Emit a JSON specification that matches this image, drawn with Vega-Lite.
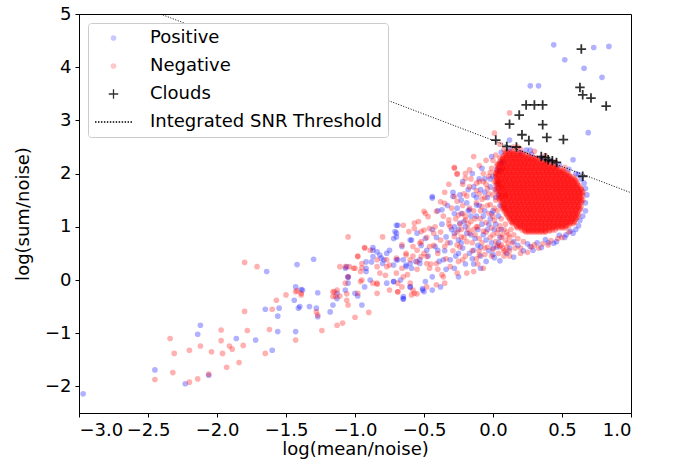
{
"$schema":"https://vega.github.io/schema/vega-lite/v6.json",
"width":552,"height":399,
"autosize":{"type":"none"},
"padding":{"left":79,"top":14,"right":45,"bottom":59},
"config":{
"font":"DejaVu Sans",
"view":{"stroke":"black","strokeWidth":1},
"axis":{"grid":false,"domainColor":"black","domainWidth":1,"tickColor":"black","tickSize":4,"tickWidth":1,"labelFontSize":18,"titleFontSize":18,"labelFont":"DejaVu Sans","titleFont":"DejaVu Sans","titleFontWeight":"normal","labelColor":"black","titleColor":"black","labelPadding":4},
"legend":{"orient":"top-left","offset":9,"padding":6,"fillColor":"white","strokeColor":"#cccccc","cornerRadius":3,"labelFontSize":18,"labelFont":"DejaVu Sans","labelColor":"black","labelOffset":17,"labelLimit":0,"clipHeight":18,"rowPadding":10,"symbolStrokeWidth":1.3}
},
"layer":[
{
"data":{"values":[
{"s":"P","x":-2.97,"y":-2.14},{"s":"P","x":-2.45,"y":-1.69},{"s":"P","x":-2.23,"y":-1.95},{"s":"P","x":-2.14,"y":-1.02},{"s":"P","x":-2.12,"y":-0.85},{"s":"P","x":-2.06,"y":-1.79},{"s":"P","x":-1.86,"y":-1.10},{"s":"P","x":-1.72,"y":-1.13},{"s":"P","x":-1.64,"y":0.16},{"s":"P","x":-1.65,"y":-0.55},{"s":"P","x":-1.60,"y":-1.32},{"s":"P","x":-1.56,"y":-0.68},{"s":"P","x":-1.55,"y":-0.53},{"s":"P","x":-1.56,"y":-0.97},{"s":"P","x":-1.44,"y":-0.38},{"s":"P","x":-1.43,"y":-0.97},{"s":"P","x":-1.42,"y":0.29},{"s":"P","x":-1.43,"y":-0.13},{"s":"P","x":-1.41,"y":-0.53},{"s":"P","x":-1.38,"y":-0.19},{"s":"P","x":-1.30,"y":0.39},{"s":"P","x":-1.33,"y":-0.50},{"s":"P","x":-1.27,"y":-0.24},{"s":"P","x":-1.28,"y":-0.53},{"s":"P","x":-1.18,"y":-0.60},{"s":"P","x":-1.16,"y":-0.47},{"s":"P","x":-1.27,"y":-0.69},{"s":"P","x":-1.40,"y":-0.50},
{"s":"P","x":-0.87,"y":0.61},{"s":"P","x":-0.84,"y":0.53},{"s":"P","x":-0.92,"y":0.34},{"s":"P","x":-0.81,"y":0.41},{"s":"P","x":-0.77,"y":0.50},{"s":"P","x":-1.07,"y":0.22},{"s":"P","x":-0.92,"y":0.22},{"s":"P","x":-0.72,"y":0.28},{"s":"P","x":-0.69,"y":0.38},{"s":"P","x":-0.70,"y":0.88},{"s":"P","x":-0.72,"y":0.78},{"s":"P","x":-0.70,"y":1.03},{"s":"P","x":-0.65,"y":0.38},{"s":"P","x":-0.60,"y":0.31},{"s":"P","x":-0.59,"y":0.75},{"s":"P","x":-0.55,"y":0.88},{"s":"P","x":-0.49,"y":0.78},{"s":"P","x":-1.05,"y":0.05},{"s":"P","x":-0.89,"y":0.00},{"s":"P","x":-0.77,"y":-0.06},{"s":"P","x":-0.72,"y":-0.03},{"s":"P","x":-0.67,"y":0.00},{"s":"P","x":-0.60,"y":-0.13},{"s":"P","x":-0.49,"y":-0.03},{"s":"P","x":-0.65,"y":-0.35},{"s":"P","x":-0.50,"y":-0.22},{"s":"P","x":-1.39,"y":-0.18},{"s":"P","x":-1.13,"y":-0.35},{"s":"P","x":-1.07,"y":-0.19},{"s":"P","x":-0.98,"y":-0.30},
{"s":"P","x":-0.22,"y":1.85},{"s":"P","x":-0.14,"y":1.75},{"s":"P","x":-0.44,"y":1.54},{"s":"P","x":-0.37,"y":1.32},{"s":"P","x":-0.29,"y":1.57},{"s":"P","x":-0.23,"y":1.50},{"s":"P","x":-0.26,"y":1.35},{"s":"P","x":-0.69,"y":1.03},{"s":"P","x":-0.71,"y":0.91},{"s":"P","x":-0.70,"y":0.81},{"s":"P","x":-0.60,"y":0.75},{"s":"P","x":-0.66,"y":0.63},{"s":"P","x":-0.75,"y":0.56},{"s":"P","x":-0.82,"y":0.47},{"s":"P","x":-0.87,"y":0.56},{"s":"P","x":-0.88,"y":0.34},{"s":"P","x":-0.80,"y":0.31},{"s":"P","x":-0.70,"y":0.38},{"s":"P","x":-0.63,"y":0.28},{"s":"P","x":-0.59,"y":0.22},{"s":"P","x":-0.53,"y":0.38},{"s":"P","x":-0.48,"y":0.56},{"s":"P","x":-0.42,"y":0.63},{"s":"P","x":-0.40,"y":0.56},{"s":"P","x":-0.34,"y":0.81},{"s":"P","x":-0.28,"y":0.88},{"s":"P","x":-0.24,"y":1.07},{"s":"P","x":-0.17,"y":1.32},{"s":"P","x":-0.12,"y":1.41},{"s":"P","x":-0.31,"y":0.38},{"s":"P","x":-0.28,"y":0.22},{"s":"P","x":-0.25,"y":0.06},{"s":"P","x":-1.06,"y":0.25},{"s":"P","x":-1.05,"y":0.06},{"s":"P","x":-1.13,"y":-0.25},{"s":"P","x":-1.00,"y":-0.25},{"s":"P","x":-0.93,"y":-0.13},{"s":"P","x":-0.72,"y":-0.03},{"s":"P","x":-0.60,"y":-0.13},{"s":"P","x":-0.51,"y":-0.19},{"s":"P","x":-0.44,"y":0.06},{"s":"P","x":-0.65,"y":-0.31},{"s":"P","x":-0.38,"y":-0.13},{"s":"P","x":-0.92,"y":0.16},
{"s":"P","x":-0.95,"y":-0.47},{"s":"P","x":-0.65,"y":-0.36},{"s":"P","x":-0.51,"y":-0.16},{"s":"P","x":-0.44,"y":-0.19},{"s":"P","x":-0.09,"y":0.22},{"s":"P","x":0.05,"y":0.36},{"s":"P","x":0.29,"y":0.56},{"s":"P","x":0.44,"y":0.69},{"s":"P","x":-0.87,"y":0.44},{"s":"P","x":-0.79,"y":0.38},{"s":"P","x":-0.63,"y":0.25},{"s":"P","x":-0.53,"y":0.31},{"s":"P","x":-0.36,"y":0.38},{"s":"P","x":-0.25,"y":0.50},{"s":"P","x":-0.14,"y":0.56},{"s":"P","x":0.00,"y":0.60},{"s":"P","x":0.12,"y":0.60},{"s":"P","x":-1.05,"y":-0.06},
{"s":"P","x":-0.14,"y":0.30},{"s":"P","x":-0.11,"y":0.65},{"s":"P","x":-0.09,"y":0.45},{"s":"P","x":-0.07,"y":0.85},{"s":"P","x":-0.05,"y":0.35},{"s":"P","x":-0.03,"y":0.55},{"s":"P","x":-0.01,"y":0.70},{"s":"P","x":0.01,"y":0.42},{"s":"P","x":0.03,"y":0.62},{"s":"P","x":0.05,"y":0.80},{"s":"P","x":-0.12,"y":1.20},{"s":"P","x":-0.10,"y":1.40},{"s":"P","x":-0.08,"y":1.05},{"s":"P","x":-0.06,"y":1.30},{"s":"P","x":-0.04,"y":0.95},{"s":"P","x":-0.02,"y":1.15},{"s":"P","x":0.00,"y":1.30},{"s":"P","x":0.02,"y":1.05},{"s":"P","x":0.04,"y":1.20},{"s":"P","x":0.05,"y":1.40},{"s":"P","x":-0.09,"y":1.70},{"s":"P","x":-0.06,"y":1.90},{"s":"P","x":-0.04,"y":1.55},{"s":"P","x":-0.02,"y":1.75},{"s":"P","x":0.00,"y":1.95},{"s":"P","x":0.02,"y":1.70},{"s":"P","x":0.03,"y":2.08},{"s":"P","x":0.04,"y":1.60},{"s":"P","x":-0.08,"y":2.10},{"s":"P","x":0.06,"y":2.20},{"s":"P","x":-0.18,"y":1.30},{"s":"P","x":-0.20,"y":1.00},{"s":"P","x":-0.16,"y":0.85},{"s":"P","x":-0.23,"y":1.25},{"s":"P","x":-0.19,"y":1.45},{"s":"P","x":-0.14,"y":1.60},{"s":"P","x":-0.25,"y":0.75},{"s":"P","x":-0.22,"y":0.60},{"s":"P","x":-0.17,"y":0.50},{"s":"P","x":-0.28,"y":1.00},
{"s":"P","x":-0.41,"y":0.80},{"s":"P","x":-0.39,"y":0.35},{"s":"P","x":-0.37,"y":1.05},{"s":"P","x":-0.35,"y":0.55},{"s":"P","x":-0.33,"y":1.40},{"s":"P","x":-0.31,"y":0.70},{"s":"P","x":-0.30,"y":0.95},{"s":"P","x":-0.28,"y":1.25},{"s":"P","x":-0.27,"y":0.45},{"s":"P","x":-0.25,"y":0.95},{"s":"P","x":-0.24,"y":1.60},{"s":"P","x":-0.23,"y":0.70},{"s":"P","x":-0.21,"y":1.10},{"s":"P","x":-0.20,"y":0.30},{"s":"P","x":-0.19,"y":0.88},{"s":"P","x":-0.18,"y":1.70},{"s":"P","x":-0.16,"y":1.20},{"s":"P","x":-0.15,"y":0.40},{"s":"P","x":-0.13,"y":0.78},{"s":"P","x":-0.12,"y":1.55},{"s":"P","x":-0.11,"y":0.95},{"s":"P","x":-0.10,"y":1.90},{"s":"P","x":-0.09,"y":0.62},{"s":"P","x":-0.07,"y":1.20},{"s":"P","x":-0.06,"y":1.65},{"s":"P","x":-0.05,"y":0.75},{"s":"P","x":-0.03,"y":1.05},{"s":"P","x":-0.02,"y":1.90},{"s":"P","x":-0.01,"y":1.25},{"s":"P","x":0.00,"y":0.48},{"s":"P","x":0.01,"y":0.95},{"s":"P","x":0.02,"y":1.55},{"s":"P","x":0.03,"y":1.80},{"s":"P","x":0.04,"y":0.70},{"s":"P","x":0.05,"y":2.05},{"s":"P","x":0.06,"y":0.95},{"s":"P","x":-0.47,"y":0.45},{"s":"P","x":-0.44,"y":0.95},{"s":"P","x":-0.52,"y":0.65},{"s":"P","x":-0.56,"y":0.35},{"s":"P","x":-0.40,"y":1.30},{"s":"P","x":-0.34,"y":0.20},{"s":"P","x":-0.29,"y":1.65},{"s":"P","x":-0.15,"y":2.00},
{"s":"P","x":0.15,"y":0.43},{"s":"P","x":0.35,"y":0.61},{"s":"P","x":0.52,"y":0.80},{"s":"P","x":0.32,"y":0.70},{"s":"P","x":0.46,"y":0.72},{"s":"P","x":0.53,"y":0.85},{"s":"P","x":0.15,"y":0.72},{"s":"P","x":0.27,"y":0.63},{"s":"P","x":0.22,"y":0.55},{"s":"P","x":0.40,"y":0.70},{"s":"P","x":0.58,"y":0.88},{"s":"P","x":0.10,"y":0.50},{"s":"P","x":0.18,"y":0.65},{"s":"P","x":0.38,"y":0.76},{"s":"P","x":0.48,"y":0.84},{"s":"P","x":0.25,"y":0.68},{"s":"P","x":0.60,"y":0.95},{"s":"P","x":0.62,"y":1.02},{"s":"P","x":0.56,"y":0.92},
{"s":"P","x":0.67,"y":1.30},{"s":"P","x":0.67,"y":1.45},{"s":"P","x":0.68,"y":1.60},{"s":"P","x":0.67,"y":1.72},{"s":"P","x":0.66,"y":1.82},{"s":"P","x":0.65,"y":1.20},{"s":"P","x":0.63,"y":1.12},{"s":"P","x":0.64,"y":1.90},{"s":"P","x":0.62,"y":1.98},{"s":"P","x":0.12,"y":2.46},{"s":"P","x":0.20,"y":2.40},{"s":"P","x":0.28,"y":2.36},{"s":"P","x":0.35,"y":2.30},{"s":"P","x":0.42,"y":2.24},{"s":"P","x":0.48,"y":2.16},{"s":"P","x":0.55,"y":2.08},{"s":"P","x":0.60,"y":2.00},{"s":"P","x":0.06,"y":2.40},{"s":"P","x":0.24,"y":2.44},
{"s":"P","x":0.44,"y":4.42},{"s":"P","x":0.73,"y":4.37},{"s":"P","x":0.84,"y":4.39},{"s":"P","x":0.52,"y":4.14},{"s":"P","x":0.66,"y":3.98},{"s":"P","x":0.79,"y":3.81},{"s":"P","x":0.27,"y":3.65},{"s":"P","x":0.33,"y":3.65},{"s":"P","x":0.69,"y":2.77},{"s":"P","x":0.58,"y":2.26},{"s":"P","x":0.12,"y":2.63},{"s":"P","x":0.27,"y":2.44},{"s":"P","x":-0.01,"y":2.32},{"s":"P","x":0.07,"y":2.22},{"s":"P","x":-0.44,"y":1.57},
{"s":"N","x":-2.45,"y":-1.87},{"s":"N","x":-2.34,"y":-1.10},{"s":"N","x":-2.32,"y":-1.74},{"s":"N","x":-2.31,"y":-1.38},{"s":"N","x":-2.20,"y":-1.32},{"s":"N","x":-2.20,"y":-1.92},{"s":"N","x":-2.14,"y":-1.86},{"s":"N","x":-2.12,"y":-1.24},{"s":"N","x":-2.06,"y":-1.77},{"s":"N","x":-2.04,"y":-1.35},{"s":"N","x":-1.97,"y":-0.94},{"s":"N","x":-1.97,"y":-1.14},{"s":"N","x":-1.96,"y":-1.38},{"s":"N","x":-1.93,"y":-1.64},{"s":"N","x":-1.91,"y":-1.24},{"s":"N","x":-1.89,"y":-1.30},{"s":"N","x":-1.84,"y":-1.55},{"s":"N","x":-1.81,"y":-1.23},{"s":"N","x":-1.80,"y":-0.59},{"s":"N","x":-1.80,"y":0.33},{"s":"N","x":-1.78,"y":-0.95},{"s":"N","x":-1.71,"y":0.25},{"s":"N","x":-1.65,"y":-1.38},{"s":"N","x":-1.62,"y":-0.93},{"s":"N","x":-1.60,"y":-0.55},{"s":"N","x":-1.57,"y":-0.38},{"s":"N","x":-1.50,"y":-0.28},{"s":"N","x":-1.43,"y":-1.13},{"s":"N","x":-1.43,"y":-0.22},{"s":"N","x":-1.39,"y":-0.25},{"s":"N","x":-1.28,"y":-0.60},{"s":"N","x":-1.27,"y":-0.66},{"s":"N","x":-1.24,"y":-0.95},{"s":"N","x":-1.16,"y":-0.22},{"s":"N","x":-1.14,"y":-0.31},{"s":"N","x":-1.13,"y":-0.85},{"s":"N","x":-1.42,"y":-0.20},
{"s":"N","x":-1.05,"y":0.81},{"s":"N","x":-0.93,"y":0.61},{"s":"N","x":-0.98,"y":0.45},{"s":"N","x":-0.84,"y":0.38},{"s":"N","x":-1.07,"y":0.25},{"s":"N","x":-1.01,"y":0.22},{"s":"N","x":-0.95,"y":0.23},{"s":"N","x":-0.84,"y":0.25},{"s":"N","x":-0.77,"y":0.25},{"s":"N","x":-0.66,"y":0.66},{"s":"N","x":-0.63,"y":0.47},{"s":"N","x":-0.55,"y":0.56},{"s":"N","x":-0.52,"y":0.72},{"s":"N","x":-0.50,"y":0.94},{"s":"N","x":-0.49,"y":1.25},{"s":"N","x":-0.57,"y":1.07},{"s":"N","x":-0.52,"y":0.44},{"s":"N","x":-1.05,"y":0.06},{"s":"N","x":-0.95,"y":0.00},{"s":"N","x":-0.84,"y":-0.08},{"s":"N","x":-0.69,"y":-0.06},{"s":"N","x":-0.65,"y":0.06},{"s":"N","x":-0.60,"y":-0.06},{"s":"N","x":-0.59,"y":-0.28},{"s":"N","x":-0.55,"y":-0.26},{"s":"N","x":-0.69,"y":-0.22},{"s":"N","x":-1.39,"y":-0.28},{"s":"N","x":-1.15,"y":-0.22},{"s":"N","x":-1.11,"y":-0.30},{"s":"N","x":-1.06,"y":-0.26},{"s":"N","x":-1.05,"y":-0.47},
{"s":"N","x":-0.14,"y":2.32},{"s":"N","x":-0.28,"y":2.10},{"s":"N","x":-0.26,"y":2.00},{"s":"N","x":-0.17,"y":2.07},{"s":"N","x":-0.20,"y":1.91},{"s":"N","x":-0.12,"y":1.82},{"s":"N","x":-0.28,"y":1.57},{"s":"N","x":-0.35,"y":1.44},{"s":"N","x":-0.38,"y":1.47},{"s":"N","x":-0.41,"y":1.29},{"s":"N","x":-0.50,"y":1.29},{"s":"N","x":-0.47,"y":1.19},{"s":"N","x":-0.54,"y":1.10},{"s":"N","x":-0.57,"y":0.97},{"s":"N","x":-0.65,"y":1.03},{"s":"N","x":-0.61,"y":0.91},{"s":"N","x":-0.52,"y":0.91},{"s":"N","x":-0.46,"y":0.97},{"s":"N","x":-0.43,"y":0.88},{"s":"N","x":-0.32,"y":1.13},{"s":"N","x":-0.31,"y":1.00},{"s":"N","x":-0.25,"y":1.22},{"s":"N","x":-0.20,"y":1.13},{"s":"N","x":-0.38,"y":0.75},{"s":"N","x":-0.35,"y":0.63},{"s":"N","x":-0.26,"y":0.66},{"s":"N","x":-0.23,"y":0.81},{"s":"N","x":-0.17,"y":0.88},{"s":"N","x":-0.12,"y":1.00},{"s":"N","x":-0.80,"y":0.81},{"s":"N","x":-0.89,"y":0.56},{"s":"N","x":-0.93,"y":0.60},{"s":"N","x":-0.98,"y":0.44},{"s":"N","x":-0.95,"y":0.31},{"s":"N","x":-1.00,"y":0.22},{"s":"N","x":-1.04,"y":0.25},{"s":"N","x":-1.11,"y":0.25},{"s":"N","x":-1.07,"y":-0.06},{"s":"N","x":-1.13,"y":-0.19},{"s":"N","x":-1.16,"y":-0.31},{"s":"N","x":-0.96,"y":-0.03},{"s":"N","x":-0.87,"y":-0.06},{"s":"N","x":-0.78,"y":0.09},{"s":"N","x":-0.70,"y":0.13},{"s":"N","x":-0.66,"y":0.22},{"s":"N","x":-0.55,"y":0.34},{"s":"N","x":-0.48,"y":0.44},{"s":"N","x":-0.46,"y":0.22},{"s":"N","x":-0.41,"y":0.31},{"s":"N","x":-0.35,"y":-0.06},{"s":"N","x":-0.26,"y":0.13},{"s":"N","x":-0.77,"y":0.38},{"s":"N","x":-0.70,"y":0.41},{"s":"N","x":-0.63,"y":0.50},{"s":"N","x":-0.58,"y":0.63},{"s":"N","x":-0.53,"y":0.69},{"s":"N","x":-0.46,"y":0.63},{"s":"N","x":-0.84,"y":-0.25},{"s":"N","x":-0.75,"y":-0.19},{"s":"N","x":-0.66,"y":-0.13},{"s":"N","x":-0.58,"y":-0.19},{"s":"N","x":-0.48,"y":-0.13},{"s":"N","x":-0.36,"y":0.06},
{"s":"N","x":-1.09,"y":-0.81},{"s":"N","x":-1.00,"y":-0.70},{"s":"N","x":-0.90,"y":-0.61},{"s":"N","x":-1.06,"y":-0.38},{"s":"N","x":-0.98,"y":-0.25},{"s":"N","x":-0.84,"y":-0.06},{"s":"N","x":-0.69,"y":-0.22},{"s":"N","x":-0.57,"y":-0.25},{"s":"N","x":-0.41,"y":-0.09},{"s":"N","x":-0.19,"y":0.13},{"s":"N","x":-0.14,"y":0.16},{"s":"N","x":-0.07,"y":0.22},{"s":"N","x":0.09,"y":0.53},{"s":"N","x":0.20,"y":0.50},{"s":"N","x":-0.96,"y":0.16},{"s":"N","x":-0.82,"y":0.13},{"s":"N","x":-0.75,"y":0.28},{"s":"N","x":-0.60,"y":0.38},{"s":"N","x":-0.48,"y":0.31},{"s":"N","x":-0.31,"y":0.25},{"s":"N","x":-0.22,"y":0.38},{"s":"N","x":-0.10,"y":0.47},{"s":"N","x":0.05,"y":0.63},
{"s":"N","x":0.12,"y":3.14},{"s":"N","x":0.01,"y":2.76},{"s":"N","x":-0.28,"y":2.12},{"s":"N","x":-0.26,"y":1.99},{"s":"N","x":0.05,"y":2.55},{"s":"N","x":0.15,"y":2.50},{"s":"N","x":0.20,"y":2.45},{"s":"N","x":0.08,"y":2.45},
{"s":"N","x":-0.40,"y":0.50},{"s":"N","x":-0.38,"y":0.90},{"s":"N","x":-0.36,"y":1.20},{"s":"N","x":-0.34,"y":0.40},{"s":"N","x":-0.33,"y":0.70},{"s":"N","x":-0.32,"y":1.05},{"s":"N","x":-0.30,"y":1.35},{"s":"N","x":-0.29,"y":0.55},{"s":"N","x":-0.28,"y":0.82},{"s":"N","x":-0.27,"y":1.15},{"s":"N","x":-0.26,"y":1.48},{"s":"N","x":-0.25,"y":0.35},{"s":"N","x":-0.24,"y":0.62},{"s":"N","x":-0.23,"y":0.95},{"s":"N","x":-0.22,"y":1.25},{"s":"N","x":-0.21,"y":1.62},{"s":"N","x":-0.20,"y":0.45},{"s":"N","x":-0.19,"y":0.72},{"s":"N","x":-0.18,"y":1.05},{"s":"N","x":-0.17,"y":1.35},{"s":"N","x":-0.16,"y":1.90},{"s":"N","x":-0.15,"y":0.55},{"s":"N","x":-0.14,"y":0.95},{"s":"N","x":-0.13,"y":1.15},{"s":"N","x":-0.12,"y":1.68},{"s":"N","x":-0.11,"y":0.30},{"s":"N","x":-0.10,"y":0.78},{"s":"N","x":-0.09,"y":1.30},{"s":"N","x":-0.08,"y":1.52},{"s":"N","x":-0.07,"y":1.85},{"s":"N","x":-0.06,"y":0.60},{"s":"N","x":-0.05,"y":0.90},{"s":"N","x":-0.04,"y":1.40},{"s":"N","x":-0.03,"y":1.62},{"s":"N","x":-0.02,"y":2.02},{"s":"N","x":-0.01,"y":0.45},{"s":"N","x":0.00,"y":0.85},{"s":"N","x":0.00,"y":1.20},{"s":"N","x":0.01,"y":1.70},{"s":"N","x":0.02,"y":1.95},{"s":"N","x":0.03,"y":0.65},{"s":"N","x":0.03,"y":1.30},{"s":"N","x":0.04,"y":1.85},{"s":"N","x":0.04,"y":0.95},{"s":"N","x":0.05,"y":1.55},{"s":"N","x":0.06,"y":1.15},{"s":"N","x":0.06,"y":1.75},{"s":"N","x":0.07,"y":2.10},{"s":"N","x":0.07,"y":0.85},{"s":"N","x":0.08,"y":1.35},{"s":"N","x":0.09,"y":1.05},{"s":"N","x":0.09,"y":1.60},{"s":"N","x":0.10,"y":0.90},{"s":"N","x":0.11,"y":0.70},{"s":"N","x":0.12,"y":0.80},{"s":"N","x":0.13,"y":0.95},{"s":"N","x":0.15,"y":0.85},{"s":"N","x":-0.45,"y":0.30},{"s":"N","x":-0.43,"y":0.65},{"s":"N","x":-0.42,"y":1.00},{"s":"N","x":-0.40,"y":0.20},{"s":"N","x":-0.37,"y":0.10},{"s":"N","x":-0.50,"y":0.50},{"s":"N","x":-0.48,"y":0.80},{"s":"N","x":-0.55,"y":0.20},{"s":"N","x":-0.58,"y":0.45},{"s":"N","x":-0.62,"y":0.10},{"s":"N","x":-0.35,"y":1.65},{"s":"N","x":-0.32,"y":1.80},{"s":"N","x":-0.22,"y":1.80},{"s":"N","x":-0.20,"y":2.00},{"s":"N","x":-0.10,"y":2.15},{"s":"N","x":-0.05,"y":2.25},{"s":"N","x":0.02,"y":2.35},
{"s":"N","x":-0.12,"y":0.40},{"s":"N","x":-0.10,"y":0.55},{"s":"N","x":-0.08,"y":0.70},{"s":"N","x":-0.06,"y":0.48},{"s":"N","x":-0.04,"y":0.62},{"s":"N","x":-0.02,"y":0.80},{"s":"N","x":0.00,"y":0.58},{"s":"N","x":0.02,"y":0.72},{"s":"N","x":0.04,"y":0.50},{"s":"N","x":0.06,"y":0.66},{"s":"N","x":-0.13,"y":0.85},{"s":"N","x":-0.11,"y":1.00},{"s":"N","x":-0.09,"y":1.15},{"s":"N","x":-0.07,"y":0.92},{"s":"N","x":-0.05,"y":1.08},{"s":"N","x":-0.03,"y":1.25},{"s":"N","x":-0.01,"y":0.98},{"s":"N","x":0.01,"y":1.12},{"s":"N","x":0.03,"y":0.88},{"s":"N","x":0.05,"y":1.02},{"s":"N","x":-0.14,"y":1.30},{"s":"N","x":-0.12,"y":1.45},{"s":"N","x":-0.10,"y":1.62},{"s":"N","x":-0.08,"y":1.38},{"s":"N","x":-0.06,"y":1.55},{"s":"N","x":-0.04,"y":1.72},{"s":"N","x":-0.02,"y":1.42},{"s":"N","x":0.00,"y":1.60},{"s":"N","x":0.01,"y":1.35},{"s":"N","x":0.02,"y":1.50},{"s":"N","x":-0.10,"y":1.85},{"s":"N","x":-0.07,"y":2.00},{"s":"N","x":-0.05,"y":1.80},{"s":"N","x":-0.03,"y":1.95},{"s":"N","x":-0.01,"y":2.10},{"s":"N","x":0.01,"y":1.85},{"s":"N","x":0.02,"y":2.00},{"s":"N","x":0.03,"y":2.18},{"s":"N","x":0.05,"y":2.30},{"s":"N","x":0.00,"y":2.25},{"s":"N","x":-0.16,"y":1.10},{"s":"N","x":-0.18,"y":0.95},{"s":"N","x":-0.15,"y":0.70},{"s":"N","x":-0.20,"y":1.20},{"s":"N","x":-0.22,"y":1.40},{"s":"N","x":-0.19,"y":1.58},{"s":"N","x":-0.17,"y":1.75},{"s":"N","x":-0.24,"y":1.05},{"s":"N","x":-0.21,"y":0.80},{"s":"N","x":-0.26,"y":0.90},{"s":"N","x":0.06,"y":0.80},{"s":"N","x":0.08,"y":0.95},{"s":"N","x":0.07,"y":0.60},{"s":"N","x":0.09,"y":0.75},{"s":"N","x":0.08,"y":0.45},{"s":"N","x":0.10,"y":0.62},{"s":"N","x":0.12,"y":0.55},{"s":"N","x":0.11,"y":0.85},{"s":"N","x":0.14,"y":0.70},{"s":"N","x":0.16,"y":0.60},
{"s":"N","x":0.20,"y":0.60},{"s":"N","x":0.12,"y":0.45},{"s":"N","x":0.30,"y":0.66},{"s":"N","x":0.42,"y":0.74},{"s":"N","x":0.25,"y":0.52},{"s":"N","x":0.36,"y":0.68},{"s":"N","x":0.50,"y":0.80},{"s":"N","x":0.18,"y":0.78},{"s":"N","x":0.08,"y":0.55},{"s":"N","x":0.33,"y":0.60},{"s":"N","x":0.47,"y":0.78},{"s":"N","x":0.55,"y":0.90},{"s":"N","x":0.22,"y":0.72},{"s":"N","x":0.28,"y":0.62},{"s":"N","x":0.40,"y":0.66},
{"s":"N","x":0.30,"y":2.42},{"s":"N","x":0.38,"y":2.34},{"s":"N","x":0.18,"y":2.50},{"s":"N","x":0.45,"y":2.22},{"s":"N","x":0.52,"y":2.12},
{"s":"N","x":0.10,"y":2.42},{"s":"N","x":0.12,"y":2.42},{"s":"N","x":0.14,"y":2.42},{"s":"N","x":0.16,"y":2.42},
{"s":"N","x":0.09,"y":2.38},{"s":"N","x":0.11,"y":2.38},{"s":"N","x":0.13,"y":2.38},{"s":"N","x":0.15,"y":2.38},{"s":"N","x":0.17,"y":2.38},{"s":"N","x":0.19,"y":2.38},{"s":"N","x":0.21,"y":2.38},
{"s":"N","x":0.08,"y":2.34},{"s":"N","x":0.10,"y":2.34},{"s":"N","x":0.12,"y":2.34},{"s":"N","x":0.14,"y":2.34},{"s":"N","x":0.16,"y":2.34},{"s":"N","x":0.18,"y":2.34},{"s":"N","x":0.20,"y":2.34},{"s":"N","x":0.22,"y":2.34},{"s":"N","x":0.24,"y":2.34},{"s":"N","x":0.26,"y":2.34},
{"s":"N","x":0.07,"y":2.30},{"s":"N","x":0.09,"y":2.30},{"s":"N","x":0.11,"y":2.30},{"s":"N","x":0.13,"y":2.30},{"s":"N","x":0.15,"y":2.30},{"s":"N","x":0.17,"y":2.30},{"s":"N","x":0.19,"y":2.30},{"s":"N","x":0.21,"y":2.30},{"s":"N","x":0.23,"y":2.30},{"s":"N","x":0.25,"y":2.30},{"s":"N","x":0.27,"y":2.30},{"s":"N","x":0.29,"y":2.30},{"s":"N","x":0.31,"y":2.30},
{"s":"N","x":0.06,"y":2.26},{"s":"N","x":0.08,"y":2.26},{"s":"N","x":0.10,"y":2.26},{"s":"N","x":0.12,"y":2.26},{"s":"N","x":0.14,"y":2.26},{"s":"N","x":0.16,"y":2.26},{"s":"N","x":0.18,"y":2.26},{"s":"N","x":0.20,"y":2.26},{"s":"N","x":0.22,"y":2.26},{"s":"N","x":0.24,"y":2.26},{"s":"N","x":0.26,"y":2.26},{"s":"N","x":0.28,"y":2.26},{"s":"N","x":0.30,"y":2.26},{"s":"N","x":0.32,"y":2.26},{"s":"N","x":0.34,"y":2.26},
{"s":"N","x":0.05,"y":2.22},{"s":"N","x":0.07,"y":2.22},{"s":"N","x":0.09,"y":2.22},{"s":"N","x":0.11,"y":2.22},{"s":"N","x":0.13,"y":2.22},{"s":"N","x":0.15,"y":2.22},{"s":"N","x":0.17,"y":2.22},{"s":"N","x":0.19,"y":2.22},{"s":"N","x":0.21,"y":2.22},{"s":"N","x":0.23,"y":2.22},{"s":"N","x":0.25,"y":2.22},{"s":"N","x":0.27,"y":2.22},{"s":"N","x":0.29,"y":2.22},{"s":"N","x":0.31,"y":2.22},{"s":"N","x":0.33,"y":2.22},{"s":"N","x":0.35,"y":2.22},{"s":"N","x":0.37,"y":2.22},{"s":"N","x":0.39,"y":2.22},
{"s":"N","x":0.04,"y":2.18},{"s":"N","x":0.06,"y":2.18},{"s":"N","x":0.08,"y":2.18},{"s":"N","x":0.10,"y":2.18},{"s":"N","x":0.12,"y":2.18},{"s":"N","x":0.14,"y":2.18},{"s":"N","x":0.16,"y":2.18},{"s":"N","x":0.18,"y":2.18},{"s":"N","x":0.20,"y":2.18},{"s":"N","x":0.22,"y":2.18},{"s":"N","x":0.24,"y":2.18},{"s":"N","x":0.26,"y":2.18},{"s":"N","x":0.28,"y":2.18},{"s":"N","x":0.30,"y":2.18},{"s":"N","x":0.32,"y":2.18},{"s":"N","x":0.34,"y":2.18},{"s":"N","x":0.36,"y":2.18},{"s":"N","x":0.38,"y":2.18},{"s":"N","x":0.40,"y":2.18},{"s":"N","x":0.42,"y":2.18},
{"s":"N","x":0.03,"y":2.14},{"s":"N","x":0.05,"y":2.14},{"s":"N","x":0.07,"y":2.14},{"s":"N","x":0.09,"y":2.14},{"s":"N","x":0.11,"y":2.14},{"s":"N","x":0.13,"y":2.14},{"s":"N","x":0.15,"y":2.14},{"s":"N","x":0.17,"y":2.14},{"s":"N","x":0.19,"y":2.14},{"s":"N","x":0.21,"y":2.14},{"s":"N","x":0.23,"y":2.14},{"s":"N","x":0.25,"y":2.14},{"s":"N","x":0.27,"y":2.14},{"s":"N","x":0.29,"y":2.14},{"s":"N","x":0.31,"y":2.14},{"s":"N","x":0.33,"y":2.14},{"s":"N","x":0.35,"y":2.14},{"s":"N","x":0.37,"y":2.14},{"s":"N","x":0.39,"y":2.14},{"s":"N","x":0.41,"y":2.14},{"s":"N","x":0.43,"y":2.14},{"s":"N","x":0.45,"y":2.14},
{"s":"N","x":0.04,"y":2.10},{"s":"N","x":0.06,"y":2.10},{"s":"N","x":0.08,"y":2.10},{"s":"N","x":0.10,"y":2.10},{"s":"N","x":0.12,"y":2.10},{"s":"N","x":0.14,"y":2.10},{"s":"N","x":0.16,"y":2.10},{"s":"N","x":0.18,"y":2.10},{"s":"N","x":0.20,"y":2.10},{"s":"N","x":0.22,"y":2.10},{"s":"N","x":0.24,"y":2.10},{"s":"N","x":0.26,"y":2.10},{"s":"N","x":0.28,"y":2.10},{"s":"N","x":0.30,"y":2.10},{"s":"N","x":0.32,"y":2.10},{"s":"N","x":0.34,"y":2.10},{"s":"N","x":0.36,"y":2.10},{"s":"N","x":0.38,"y":2.10},{"s":"N","x":0.40,"y":2.10},{"s":"N","x":0.42,"y":2.10},{"s":"N","x":0.44,"y":2.10},{"s":"N","x":0.46,"y":2.10},{"s":"N","x":0.48,"y":2.10},
{"s":"N","x":0.03,"y":2.06},{"s":"N","x":0.05,"y":2.06},{"s":"N","x":0.07,"y":2.06},{"s":"N","x":0.09,"y":2.06},{"s":"N","x":0.11,"y":2.06},{"s":"N","x":0.13,"y":2.06},{"s":"N","x":0.15,"y":2.06},{"s":"N","x":0.17,"y":2.06},{"s":"N","x":0.19,"y":2.06},{"s":"N","x":0.21,"y":2.06},{"s":"N","x":0.23,"y":2.06},{"s":"N","x":0.25,"y":2.06},{"s":"N","x":0.27,"y":2.06},{"s":"N","x":0.29,"y":2.06},{"s":"N","x":0.31,"y":2.06},{"s":"N","x":0.33,"y":2.06},{"s":"N","x":0.35,"y":2.06},{"s":"N","x":0.37,"y":2.06},{"s":"N","x":0.39,"y":2.06},{"s":"N","x":0.41,"y":2.06},{"s":"N","x":0.43,"y":2.06},{"s":"N","x":0.45,"y":2.06},{"s":"N","x":0.47,"y":2.06},{"s":"N","x":0.49,"y":2.06},{"s":"N","x":0.51,"y":2.06},
{"s":"N","x":0.02,"y":2.02},{"s":"N","x":0.04,"y":2.02},{"s":"N","x":0.06,"y":2.02},{"s":"N","x":0.08,"y":2.02},{"s":"N","x":0.10,"y":2.02},{"s":"N","x":0.12,"y":2.02},{"s":"N","x":0.14,"y":2.02},{"s":"N","x":0.16,"y":2.02},{"s":"N","x":0.18,"y":2.02},{"s":"N","x":0.20,"y":2.02},{"s":"N","x":0.22,"y":2.02},{"s":"N","x":0.24,"y":2.02},{"s":"N","x":0.26,"y":2.02},{"s":"N","x":0.28,"y":2.02},{"s":"N","x":0.30,"y":2.02},{"s":"N","x":0.32,"y":2.02},{"s":"N","x":0.34,"y":2.02},{"s":"N","x":0.36,"y":2.02},{"s":"N","x":0.38,"y":2.02},{"s":"N","x":0.40,"y":2.02},{"s":"N","x":0.42,"y":2.02},{"s":"N","x":0.44,"y":2.02},{"s":"N","x":0.46,"y":2.02},{"s":"N","x":0.48,"y":2.02},{"s":"N","x":0.50,"y":2.02},{"s":"N","x":0.52,"y":2.02},{"s":"N","x":0.54,"y":2.02},
{"s":"N","x":0.03,"y":1.98},{"s":"N","x":0.05,"y":1.98},{"s":"N","x":0.07,"y":1.98},{"s":"N","x":0.09,"y":1.98},{"s":"N","x":0.11,"y":1.98},{"s":"N","x":0.13,"y":1.98},{"s":"N","x":0.15,"y":1.98},{"s":"N","x":0.17,"y":1.98},{"s":"N","x":0.19,"y":1.98},{"s":"N","x":0.21,"y":1.98},{"s":"N","x":0.23,"y":1.98},{"s":"N","x":0.25,"y":1.98},{"s":"N","x":0.27,"y":1.98},{"s":"N","x":0.29,"y":1.98},{"s":"N","x":0.31,"y":1.98},{"s":"N","x":0.33,"y":1.98},{"s":"N","x":0.35,"y":1.98},{"s":"N","x":0.37,"y":1.98},{"s":"N","x":0.39,"y":1.98},{"s":"N","x":0.41,"y":1.98},{"s":"N","x":0.43,"y":1.98},{"s":"N","x":0.45,"y":1.98},{"s":"N","x":0.47,"y":1.98},{"s":"N","x":0.49,"y":1.98},{"s":"N","x":0.51,"y":1.98},{"s":"N","x":0.53,"y":1.98},{"s":"N","x":0.55,"y":1.98},
{"s":"N","x":0.02,"y":1.94},{"s":"N","x":0.04,"y":1.94},{"s":"N","x":0.06,"y":1.94},{"s":"N","x":0.08,"y":1.94},{"s":"N","x":0.10,"y":1.94},{"s":"N","x":0.12,"y":1.94},{"s":"N","x":0.14,"y":1.94},{"s":"N","x":0.16,"y":1.94},{"s":"N","x":0.18,"y":1.94},{"s":"N","x":0.20,"y":1.94},{"s":"N","x":0.22,"y":1.94},{"s":"N","x":0.24,"y":1.94},{"s":"N","x":0.26,"y":1.94},{"s":"N","x":0.28,"y":1.94},{"s":"N","x":0.30,"y":1.94},{"s":"N","x":0.32,"y":1.94},{"s":"N","x":0.34,"y":1.94},{"s":"N","x":0.36,"y":1.94},{"s":"N","x":0.38,"y":1.94},{"s":"N","x":0.40,"y":1.94},{"s":"N","x":0.42,"y":1.94},{"s":"N","x":0.44,"y":1.94},{"s":"N","x":0.46,"y":1.94},{"s":"N","x":0.48,"y":1.94},{"s":"N","x":0.50,"y":1.94},{"s":"N","x":0.52,"y":1.94},{"s":"N","x":0.54,"y":1.94},{"s":"N","x":0.56,"y":1.94},{"s":"N","x":0.58,"y":1.94},
{"s":"N","x":0.03,"y":1.90},{"s":"N","x":0.05,"y":1.90},{"s":"N","x":0.07,"y":1.90},{"s":"N","x":0.09,"y":1.90},{"s":"N","x":0.11,"y":1.90},{"s":"N","x":0.13,"y":1.90},{"s":"N","x":0.15,"y":1.90},{"s":"N","x":0.17,"y":1.90},{"s":"N","x":0.19,"y":1.90},{"s":"N","x":0.21,"y":1.90},{"s":"N","x":0.23,"y":1.90},{"s":"N","x":0.25,"y":1.90},{"s":"N","x":0.27,"y":1.90},{"s":"N","x":0.29,"y":1.90},{"s":"N","x":0.31,"y":1.90},{"s":"N","x":0.33,"y":1.90},{"s":"N","x":0.35,"y":1.90},{"s":"N","x":0.37,"y":1.90},{"s":"N","x":0.39,"y":1.90},{"s":"N","x":0.41,"y":1.90},{"s":"N","x":0.43,"y":1.90},{"s":"N","x":0.45,"y":1.90},{"s":"N","x":0.47,"y":1.90},{"s":"N","x":0.49,"y":1.90},{"s":"N","x":0.51,"y":1.90},{"s":"N","x":0.53,"y":1.90},{"s":"N","x":0.55,"y":1.90},{"s":"N","x":0.57,"y":1.90},{"s":"N","x":0.59,"y":1.90},
{"s":"N","x":0.02,"y":1.86},{"s":"N","x":0.04,"y":1.86},{"s":"N","x":0.06,"y":1.86},{"s":"N","x":0.08,"y":1.86},{"s":"N","x":0.10,"y":1.86},{"s":"N","x":0.12,"y":1.86},{"s":"N","x":0.14,"y":1.86},{"s":"N","x":0.16,"y":1.86},{"s":"N","x":0.18,"y":1.86},{"s":"N","x":0.20,"y":1.86},{"s":"N","x":0.22,"y":1.86},{"s":"N","x":0.24,"y":1.86},{"s":"N","x":0.26,"y":1.86},{"s":"N","x":0.28,"y":1.86},{"s":"N","x":0.30,"y":1.86},{"s":"N","x":0.32,"y":1.86},{"s":"N","x":0.34,"y":1.86},{"s":"N","x":0.36,"y":1.86},{"s":"N","x":0.38,"y":1.86},{"s":"N","x":0.40,"y":1.86},{"s":"N","x":0.42,"y":1.86},{"s":"N","x":0.44,"y":1.86},{"s":"N","x":0.46,"y":1.86},{"s":"N","x":0.48,"y":1.86},{"s":"N","x":0.50,"y":1.86},{"s":"N","x":0.52,"y":1.86},{"s":"N","x":0.54,"y":1.86},{"s":"N","x":0.56,"y":1.86},{"s":"N","x":0.58,"y":1.86},{"s":"N","x":0.60,"y":1.86},
{"s":"N","x":0.03,"y":1.82},{"s":"N","x":0.05,"y":1.82},{"s":"N","x":0.07,"y":1.82},{"s":"N","x":0.09,"y":1.82},{"s":"N","x":0.11,"y":1.82},{"s":"N","x":0.13,"y":1.82},{"s":"N","x":0.15,"y":1.82},{"s":"N","x":0.17,"y":1.82},{"s":"N","x":0.19,"y":1.82},{"s":"N","x":0.21,"y":1.82},{"s":"N","x":0.23,"y":1.82},{"s":"N","x":0.25,"y":1.82},{"s":"N","x":0.27,"y":1.82},{"s":"N","x":0.29,"y":1.82},{"s":"N","x":0.31,"y":1.82},{"s":"N","x":0.33,"y":1.82},{"s":"N","x":0.35,"y":1.82},{"s":"N","x":0.37,"y":1.82},{"s":"N","x":0.39,"y":1.82},{"s":"N","x":0.41,"y":1.82},{"s":"N","x":0.43,"y":1.82},{"s":"N","x":0.45,"y":1.82},{"s":"N","x":0.47,"y":1.82},{"s":"N","x":0.49,"y":1.82},{"s":"N","x":0.51,"y":1.82},{"s":"N","x":0.53,"y":1.82},{"s":"N","x":0.55,"y":1.82},{"s":"N","x":0.57,"y":1.82},{"s":"N","x":0.59,"y":1.82},{"s":"N","x":0.61,"y":1.82},
{"s":"N","x":0.02,"y":1.78},{"s":"N","x":0.04,"y":1.78},{"s":"N","x":0.06,"y":1.78},{"s":"N","x":0.08,"y":1.78},{"s":"N","x":0.10,"y":1.78},{"s":"N","x":0.12,"y":1.78},{"s":"N","x":0.14,"y":1.78},{"s":"N","x":0.16,"y":1.78},{"s":"N","x":0.18,"y":1.78},{"s":"N","x":0.20,"y":1.78},{"s":"N","x":0.22,"y":1.78},{"s":"N","x":0.24,"y":1.78},{"s":"N","x":0.26,"y":1.78},{"s":"N","x":0.28,"y":1.78},{"s":"N","x":0.30,"y":1.78},{"s":"N","x":0.32,"y":1.78},{"s":"N","x":0.34,"y":1.78},{"s":"N","x":0.36,"y":1.78},{"s":"N","x":0.38,"y":1.78},{"s":"N","x":0.40,"y":1.78},{"s":"N","x":0.42,"y":1.78},{"s":"N","x":0.44,"y":1.78},{"s":"N","x":0.46,"y":1.78},{"s":"N","x":0.48,"y":1.78},{"s":"N","x":0.50,"y":1.78},{"s":"N","x":0.52,"y":1.78},{"s":"N","x":0.54,"y":1.78},{"s":"N","x":0.56,"y":1.78},{"s":"N","x":0.58,"y":1.78},{"s":"N","x":0.60,"y":1.78},{"s":"N","x":0.62,"y":1.78},
{"s":"N","x":0.03,"y":1.74},{"s":"N","x":0.05,"y":1.74},{"s":"N","x":0.07,"y":1.74},{"s":"N","x":0.09,"y":1.74},{"s":"N","x":0.11,"y":1.74},{"s":"N","x":0.13,"y":1.74},{"s":"N","x":0.15,"y":1.74},{"s":"N","x":0.17,"y":1.74},{"s":"N","x":0.19,"y":1.74},{"s":"N","x":0.21,"y":1.74},{"s":"N","x":0.23,"y":1.74},{"s":"N","x":0.25,"y":1.74},{"s":"N","x":0.27,"y":1.74},{"s":"N","x":0.29,"y":1.74},{"s":"N","x":0.31,"y":1.74},{"s":"N","x":0.33,"y":1.74},{"s":"N","x":0.35,"y":1.74},{"s":"N","x":0.37,"y":1.74},{"s":"N","x":0.39,"y":1.74},{"s":"N","x":0.41,"y":1.74},{"s":"N","x":0.43,"y":1.74},{"s":"N","x":0.45,"y":1.74},{"s":"N","x":0.47,"y":1.74},{"s":"N","x":0.49,"y":1.74},{"s":"N","x":0.51,"y":1.74},{"s":"N","x":0.53,"y":1.74},{"s":"N","x":0.55,"y":1.74},{"s":"N","x":0.57,"y":1.74},{"s":"N","x":0.59,"y":1.74},{"s":"N","x":0.61,"y":1.74},{"s":"N","x":0.63,"y":1.74},
{"s":"N","x":0.04,"y":1.70},{"s":"N","x":0.06,"y":1.70},{"s":"N","x":0.08,"y":1.70},{"s":"N","x":0.10,"y":1.70},{"s":"N","x":0.12,"y":1.70},{"s":"N","x":0.14,"y":1.70},{"s":"N","x":0.16,"y":1.70},{"s":"N","x":0.18,"y":1.70},{"s":"N","x":0.20,"y":1.70},{"s":"N","x":0.22,"y":1.70},{"s":"N","x":0.24,"y":1.70},{"s":"N","x":0.26,"y":1.70},{"s":"N","x":0.28,"y":1.70},{"s":"N","x":0.30,"y":1.70},{"s":"N","x":0.32,"y":1.70},{"s":"N","x":0.34,"y":1.70},{"s":"N","x":0.36,"y":1.70},{"s":"N","x":0.38,"y":1.70},{"s":"N","x":0.40,"y":1.70},{"s":"N","x":0.42,"y":1.70},{"s":"N","x":0.44,"y":1.70},{"s":"N","x":0.46,"y":1.70},{"s":"N","x":0.48,"y":1.70},{"s":"N","x":0.50,"y":1.70},{"s":"N","x":0.52,"y":1.70},{"s":"N","x":0.54,"y":1.70},{"s":"N","x":0.56,"y":1.70},{"s":"N","x":0.58,"y":1.70},{"s":"N","x":0.60,"y":1.70},{"s":"N","x":0.62,"y":1.70},{"s":"N","x":0.64,"y":1.70},
{"s":"N","x":0.03,"y":1.66},{"s":"N","x":0.05,"y":1.66},{"s":"N","x":0.07,"y":1.66},{"s":"N","x":0.09,"y":1.66},{"s":"N","x":0.11,"y":1.66},{"s":"N","x":0.13,"y":1.66},{"s":"N","x":0.15,"y":1.66},{"s":"N","x":0.17,"y":1.66},{"s":"N","x":0.19,"y":1.66},{"s":"N","x":0.21,"y":1.66},{"s":"N","x":0.23,"y":1.66},{"s":"N","x":0.25,"y":1.66},{"s":"N","x":0.27,"y":1.66},{"s":"N","x":0.29,"y":1.66},{"s":"N","x":0.31,"y":1.66},{"s":"N","x":0.33,"y":1.66},{"s":"N","x":0.35,"y":1.66},{"s":"N","x":0.37,"y":1.66},{"s":"N","x":0.39,"y":1.66},{"s":"N","x":0.41,"y":1.66},{"s":"N","x":0.43,"y":1.66},{"s":"N","x":0.45,"y":1.66},{"s":"N","x":0.47,"y":1.66},{"s":"N","x":0.49,"y":1.66},{"s":"N","x":0.51,"y":1.66},{"s":"N","x":0.53,"y":1.66},{"s":"N","x":0.55,"y":1.66},{"s":"N","x":0.57,"y":1.66},{"s":"N","x":0.59,"y":1.66},{"s":"N","x":0.61,"y":1.66},{"s":"N","x":0.63,"y":1.66},{"s":"N","x":0.65,"y":1.66},
{"s":"N","x":0.04,"y":1.62},{"s":"N","x":0.06,"y":1.62},{"s":"N","x":0.08,"y":1.62},{"s":"N","x":0.10,"y":1.62},{"s":"N","x":0.12,"y":1.62},{"s":"N","x":0.14,"y":1.62},{"s":"N","x":0.16,"y":1.62},{"s":"N","x":0.18,"y":1.62},{"s":"N","x":0.20,"y":1.62},{"s":"N","x":0.22,"y":1.62},{"s":"N","x":0.24,"y":1.62},{"s":"N","x":0.26,"y":1.62},{"s":"N","x":0.28,"y":1.62},{"s":"N","x":0.30,"y":1.62},{"s":"N","x":0.32,"y":1.62},{"s":"N","x":0.34,"y":1.62},{"s":"N","x":0.36,"y":1.62},{"s":"N","x":0.38,"y":1.62},{"s":"N","x":0.40,"y":1.62},{"s":"N","x":0.42,"y":1.62},{"s":"N","x":0.44,"y":1.62},{"s":"N","x":0.46,"y":1.62},{"s":"N","x":0.48,"y":1.62},{"s":"N","x":0.50,"y":1.62},{"s":"N","x":0.52,"y":1.62},{"s":"N","x":0.54,"y":1.62},{"s":"N","x":0.56,"y":1.62},{"s":"N","x":0.58,"y":1.62},{"s":"N","x":0.60,"y":1.62},{"s":"N","x":0.62,"y":1.62},{"s":"N","x":0.64,"y":1.62},
{"s":"N","x":0.05,"y":1.58},{"s":"N","x":0.07,"y":1.58},{"s":"N","x":0.09,"y":1.58},{"s":"N","x":0.11,"y":1.58},{"s":"N","x":0.13,"y":1.58},{"s":"N","x":0.15,"y":1.58},{"s":"N","x":0.17,"y":1.58},{"s":"N","x":0.19,"y":1.58},{"s":"N","x":0.21,"y":1.58},{"s":"N","x":0.23,"y":1.58},{"s":"N","x":0.25,"y":1.58},{"s":"N","x":0.27,"y":1.58},{"s":"N","x":0.29,"y":1.58},{"s":"N","x":0.31,"y":1.58},{"s":"N","x":0.33,"y":1.58},{"s":"N","x":0.35,"y":1.58},{"s":"N","x":0.37,"y":1.58},{"s":"N","x":0.39,"y":1.58},{"s":"N","x":0.41,"y":1.58},{"s":"N","x":0.43,"y":1.58},{"s":"N","x":0.45,"y":1.58},{"s":"N","x":0.47,"y":1.58},{"s":"N","x":0.49,"y":1.58},{"s":"N","x":0.51,"y":1.58},{"s":"N","x":0.53,"y":1.58},{"s":"N","x":0.55,"y":1.58},{"s":"N","x":0.57,"y":1.58},{"s":"N","x":0.59,"y":1.58},{"s":"N","x":0.61,"y":1.58},{"s":"N","x":0.63,"y":1.58},{"s":"N","x":0.65,"y":1.58},
{"s":"N","x":0.04,"y":1.54},{"s":"N","x":0.06,"y":1.54},{"s":"N","x":0.08,"y":1.54},{"s":"N","x":0.10,"y":1.54},{"s":"N","x":0.12,"y":1.54},{"s":"N","x":0.14,"y":1.54},{"s":"N","x":0.16,"y":1.54},{"s":"N","x":0.18,"y":1.54},{"s":"N","x":0.20,"y":1.54},{"s":"N","x":0.22,"y":1.54},{"s":"N","x":0.24,"y":1.54},{"s":"N","x":0.26,"y":1.54},{"s":"N","x":0.28,"y":1.54},{"s":"N","x":0.30,"y":1.54},{"s":"N","x":0.32,"y":1.54},{"s":"N","x":0.34,"y":1.54},{"s":"N","x":0.36,"y":1.54},{"s":"N","x":0.38,"y":1.54},{"s":"N","x":0.40,"y":1.54},{"s":"N","x":0.42,"y":1.54},{"s":"N","x":0.44,"y":1.54},{"s":"N","x":0.46,"y":1.54},{"s":"N","x":0.48,"y":1.54},{"s":"N","x":0.50,"y":1.54},{"s":"N","x":0.52,"y":1.54},{"s":"N","x":0.54,"y":1.54},{"s":"N","x":0.56,"y":1.54},{"s":"N","x":0.58,"y":1.54},{"s":"N","x":0.60,"y":1.54},{"s":"N","x":0.62,"y":1.54},{"s":"N","x":0.64,"y":1.54},
{"s":"N","x":0.05,"y":1.50},{"s":"N","x":0.07,"y":1.50},{"s":"N","x":0.09,"y":1.50},{"s":"N","x":0.11,"y":1.50},{"s":"N","x":0.13,"y":1.50},{"s":"N","x":0.15,"y":1.50},{"s":"N","x":0.17,"y":1.50},{"s":"N","x":0.19,"y":1.50},{"s":"N","x":0.21,"y":1.50},{"s":"N","x":0.23,"y":1.50},{"s":"N","x":0.25,"y":1.50},{"s":"N","x":0.27,"y":1.50},{"s":"N","x":0.29,"y":1.50},{"s":"N","x":0.31,"y":1.50},{"s":"N","x":0.33,"y":1.50},{"s":"N","x":0.35,"y":1.50},{"s":"N","x":0.37,"y":1.50},{"s":"N","x":0.39,"y":1.50},{"s":"N","x":0.41,"y":1.50},{"s":"N","x":0.43,"y":1.50},{"s":"N","x":0.45,"y":1.50},{"s":"N","x":0.47,"y":1.50},{"s":"N","x":0.49,"y":1.50},{"s":"N","x":0.51,"y":1.50},{"s":"N","x":0.53,"y":1.50},{"s":"N","x":0.55,"y":1.50},{"s":"N","x":0.57,"y":1.50},{"s":"N","x":0.59,"y":1.50},{"s":"N","x":0.61,"y":1.50},{"s":"N","x":0.63,"y":1.50},{"s":"N","x":0.65,"y":1.50},
{"s":"N","x":0.06,"y":1.46},{"s":"N","x":0.08,"y":1.46},{"s":"N","x":0.10,"y":1.46},{"s":"N","x":0.12,"y":1.46},{"s":"N","x":0.14,"y":1.46},{"s":"N","x":0.16,"y":1.46},{"s":"N","x":0.18,"y":1.46},{"s":"N","x":0.20,"y":1.46},{"s":"N","x":0.22,"y":1.46},{"s":"N","x":0.24,"y":1.46},{"s":"N","x":0.26,"y":1.46},{"s":"N","x":0.28,"y":1.46},{"s":"N","x":0.30,"y":1.46},{"s":"N","x":0.32,"y":1.46},{"s":"N","x":0.34,"y":1.46},{"s":"N","x":0.36,"y":1.46},{"s":"N","x":0.38,"y":1.46},{"s":"N","x":0.40,"y":1.46},{"s":"N","x":0.42,"y":1.46},{"s":"N","x":0.44,"y":1.46},{"s":"N","x":0.46,"y":1.46},{"s":"N","x":0.48,"y":1.46},{"s":"N","x":0.50,"y":1.46},{"s":"N","x":0.52,"y":1.46},{"s":"N","x":0.54,"y":1.46},{"s":"N","x":0.56,"y":1.46},{"s":"N","x":0.58,"y":1.46},{"s":"N","x":0.60,"y":1.46},{"s":"N","x":0.62,"y":1.46},{"s":"N","x":0.64,"y":1.46},
{"s":"N","x":0.07,"y":1.42},{"s":"N","x":0.09,"y":1.42},{"s":"N","x":0.11,"y":1.42},{"s":"N","x":0.13,"y":1.42},{"s":"N","x":0.15,"y":1.42},{"s":"N","x":0.17,"y":1.42},{"s":"N","x":0.19,"y":1.42},{"s":"N","x":0.21,"y":1.42},{"s":"N","x":0.23,"y":1.42},{"s":"N","x":0.25,"y":1.42},{"s":"N","x":0.27,"y":1.42},{"s":"N","x":0.29,"y":1.42},{"s":"N","x":0.31,"y":1.42},{"s":"N","x":0.33,"y":1.42},{"s":"N","x":0.35,"y":1.42},{"s":"N","x":0.37,"y":1.42},{"s":"N","x":0.39,"y":1.42},{"s":"N","x":0.41,"y":1.42},{"s":"N","x":0.43,"y":1.42},{"s":"N","x":0.45,"y":1.42},{"s":"N","x":0.47,"y":1.42},{"s":"N","x":0.49,"y":1.42},{"s":"N","x":0.51,"y":1.42},{"s":"N","x":0.53,"y":1.42},{"s":"N","x":0.55,"y":1.42},{"s":"N","x":0.57,"y":1.42},{"s":"N","x":0.59,"y":1.42},{"s":"N","x":0.61,"y":1.42},{"s":"N","x":0.63,"y":1.42},
{"s":"N","x":0.06,"y":1.38},{"s":"N","x":0.08,"y":1.38},{"s":"N","x":0.10,"y":1.38},{"s":"N","x":0.12,"y":1.38},{"s":"N","x":0.14,"y":1.38},{"s":"N","x":0.16,"y":1.38},{"s":"N","x":0.18,"y":1.38},{"s":"N","x":0.20,"y":1.38},{"s":"N","x":0.22,"y":1.38},{"s":"N","x":0.24,"y":1.38},{"s":"N","x":0.26,"y":1.38},{"s":"N","x":0.28,"y":1.38},{"s":"N","x":0.30,"y":1.38},{"s":"N","x":0.32,"y":1.38},{"s":"N","x":0.34,"y":1.38},{"s":"N","x":0.36,"y":1.38},{"s":"N","x":0.38,"y":1.38},{"s":"N","x":0.40,"y":1.38},{"s":"N","x":0.42,"y":1.38},{"s":"N","x":0.44,"y":1.38},{"s":"N","x":0.46,"y":1.38},{"s":"N","x":0.48,"y":1.38},{"s":"N","x":0.50,"y":1.38},{"s":"N","x":0.52,"y":1.38},{"s":"N","x":0.54,"y":1.38},{"s":"N","x":0.56,"y":1.38},{"s":"N","x":0.58,"y":1.38},{"s":"N","x":0.60,"y":1.38},{"s":"N","x":0.62,"y":1.38},{"s":"N","x":0.64,"y":1.38},
{"s":"N","x":0.07,"y":1.34},{"s":"N","x":0.09,"y":1.34},{"s":"N","x":0.11,"y":1.34},{"s":"N","x":0.13,"y":1.34},{"s":"N","x":0.15,"y":1.34},{"s":"N","x":0.17,"y":1.34},{"s":"N","x":0.19,"y":1.34},{"s":"N","x":0.21,"y":1.34},{"s":"N","x":0.23,"y":1.34},{"s":"N","x":0.25,"y":1.34},{"s":"N","x":0.27,"y":1.34},{"s":"N","x":0.29,"y":1.34},{"s":"N","x":0.31,"y":1.34},{"s":"N","x":0.33,"y":1.34},{"s":"N","x":0.35,"y":1.34},{"s":"N","x":0.37,"y":1.34},{"s":"N","x":0.39,"y":1.34},{"s":"N","x":0.41,"y":1.34},{"s":"N","x":0.43,"y":1.34},{"s":"N","x":0.45,"y":1.34},{"s":"N","x":0.47,"y":1.34},{"s":"N","x":0.49,"y":1.34},{"s":"N","x":0.51,"y":1.34},{"s":"N","x":0.53,"y":1.34},{"s":"N","x":0.55,"y":1.34},{"s":"N","x":0.57,"y":1.34},{"s":"N","x":0.59,"y":1.34},{"s":"N","x":0.61,"y":1.34},{"s":"N","x":0.63,"y":1.34},
{"s":"N","x":0.08,"y":1.30},{"s":"N","x":0.10,"y":1.30},{"s":"N","x":0.12,"y":1.30},{"s":"N","x":0.14,"y":1.30},{"s":"N","x":0.16,"y":1.30},{"s":"N","x":0.18,"y":1.30},{"s":"N","x":0.20,"y":1.30},{"s":"N","x":0.22,"y":1.30},{"s":"N","x":0.24,"y":1.30},{"s":"N","x":0.26,"y":1.30},{"s":"N","x":0.28,"y":1.30},{"s":"N","x":0.30,"y":1.30},{"s":"N","x":0.32,"y":1.30},{"s":"N","x":0.34,"y":1.30},{"s":"N","x":0.36,"y":1.30},{"s":"N","x":0.38,"y":1.30},{"s":"N","x":0.40,"y":1.30},{"s":"N","x":0.42,"y":1.30},{"s":"N","x":0.44,"y":1.30},{"s":"N","x":0.46,"y":1.30},{"s":"N","x":0.48,"y":1.30},{"s":"N","x":0.50,"y":1.30},{"s":"N","x":0.52,"y":1.30},{"s":"N","x":0.54,"y":1.30},{"s":"N","x":0.56,"y":1.30},{"s":"N","x":0.58,"y":1.30},{"s":"N","x":0.60,"y":1.30},{"s":"N","x":0.62,"y":1.30},
{"s":"N","x":0.09,"y":1.26},{"s":"N","x":0.11,"y":1.26},{"s":"N","x":0.13,"y":1.26},{"s":"N","x":0.15,"y":1.26},{"s":"N","x":0.17,"y":1.26},{"s":"N","x":0.19,"y":1.26},{"s":"N","x":0.21,"y":1.26},{"s":"N","x":0.23,"y":1.26},{"s":"N","x":0.25,"y":1.26},{"s":"N","x":0.27,"y":1.26},{"s":"N","x":0.29,"y":1.26},{"s":"N","x":0.31,"y":1.26},{"s":"N","x":0.33,"y":1.26},{"s":"N","x":0.35,"y":1.26},{"s":"N","x":0.37,"y":1.26},{"s":"N","x":0.39,"y":1.26},{"s":"N","x":0.41,"y":1.26},{"s":"N","x":0.43,"y":1.26},{"s":"N","x":0.45,"y":1.26},{"s":"N","x":0.47,"y":1.26},{"s":"N","x":0.49,"y":1.26},{"s":"N","x":0.51,"y":1.26},{"s":"N","x":0.53,"y":1.26},{"s":"N","x":0.55,"y":1.26},{"s":"N","x":0.57,"y":1.26},{"s":"N","x":0.59,"y":1.26},{"s":"N","x":0.61,"y":1.26},
{"s":"N","x":0.10,"y":1.22},{"s":"N","x":0.12,"y":1.22},{"s":"N","x":0.14,"y":1.22},{"s":"N","x":0.16,"y":1.22},{"s":"N","x":0.18,"y":1.22},{"s":"N","x":0.20,"y":1.22},{"s":"N","x":0.22,"y":1.22},{"s":"N","x":0.24,"y":1.22},{"s":"N","x":0.26,"y":1.22},{"s":"N","x":0.28,"y":1.22},{"s":"N","x":0.30,"y":1.22},{"s":"N","x":0.32,"y":1.22},{"s":"N","x":0.34,"y":1.22},{"s":"N","x":0.36,"y":1.22},{"s":"N","x":0.38,"y":1.22},{"s":"N","x":0.40,"y":1.22},{"s":"N","x":0.42,"y":1.22},{"s":"N","x":0.44,"y":1.22},{"s":"N","x":0.46,"y":1.22},{"s":"N","x":0.48,"y":1.22},{"s":"N","x":0.50,"y":1.22},{"s":"N","x":0.52,"y":1.22},{"s":"N","x":0.54,"y":1.22},{"s":"N","x":0.56,"y":1.22},{"s":"N","x":0.58,"y":1.22},{"s":"N","x":0.60,"y":1.22},{"s":"N","x":0.62,"y":1.22},
{"s":"N","x":0.11,"y":1.18},{"s":"N","x":0.13,"y":1.18},{"s":"N","x":0.15,"y":1.18},{"s":"N","x":0.17,"y":1.18},{"s":"N","x":0.19,"y":1.18},{"s":"N","x":0.21,"y":1.18},{"s":"N","x":0.23,"y":1.18},{"s":"N","x":0.25,"y":1.18},{"s":"N","x":0.27,"y":1.18},{"s":"N","x":0.29,"y":1.18},{"s":"N","x":0.31,"y":1.18},{"s":"N","x":0.33,"y":1.18},{"s":"N","x":0.35,"y":1.18},{"s":"N","x":0.37,"y":1.18},{"s":"N","x":0.39,"y":1.18},{"s":"N","x":0.41,"y":1.18},{"s":"N","x":0.43,"y":1.18},{"s":"N","x":0.45,"y":1.18},{"s":"N","x":0.47,"y":1.18},{"s":"N","x":0.49,"y":1.18},{"s":"N","x":0.51,"y":1.18},{"s":"N","x":0.53,"y":1.18},{"s":"N","x":0.55,"y":1.18},{"s":"N","x":0.57,"y":1.18},{"s":"N","x":0.59,"y":1.18},{"s":"N","x":0.61,"y":1.18},
{"s":"N","x":0.12,"y":1.14},{"s":"N","x":0.14,"y":1.14},{"s":"N","x":0.16,"y":1.14},{"s":"N","x":0.18,"y":1.14},{"s":"N","x":0.20,"y":1.14},{"s":"N","x":0.22,"y":1.14},{"s":"N","x":0.24,"y":1.14},{"s":"N","x":0.26,"y":1.14},{"s":"N","x":0.28,"y":1.14},{"s":"N","x":0.30,"y":1.14},{"s":"N","x":0.32,"y":1.14},{"s":"N","x":0.34,"y":1.14},{"s":"N","x":0.36,"y":1.14},{"s":"N","x":0.38,"y":1.14},{"s":"N","x":0.40,"y":1.14},{"s":"N","x":0.42,"y":1.14},{"s":"N","x":0.44,"y":1.14},{"s":"N","x":0.46,"y":1.14},{"s":"N","x":0.48,"y":1.14},{"s":"N","x":0.50,"y":1.14},{"s":"N","x":0.52,"y":1.14},{"s":"N","x":0.54,"y":1.14},{"s":"N","x":0.56,"y":1.14},{"s":"N","x":0.58,"y":1.14},{"s":"N","x":0.60,"y":1.14},
{"s":"N","x":0.13,"y":1.10},{"s":"N","x":0.15,"y":1.10},{"s":"N","x":0.17,"y":1.10},{"s":"N","x":0.19,"y":1.10},{"s":"N","x":0.21,"y":1.10},{"s":"N","x":0.23,"y":1.10},{"s":"N","x":0.25,"y":1.10},{"s":"N","x":0.27,"y":1.10},{"s":"N","x":0.29,"y":1.10},{"s":"N","x":0.31,"y":1.10},{"s":"N","x":0.33,"y":1.10},{"s":"N","x":0.35,"y":1.10},{"s":"N","x":0.37,"y":1.10},{"s":"N","x":0.39,"y":1.10},{"s":"N","x":0.41,"y":1.10},{"s":"N","x":0.43,"y":1.10},{"s":"N","x":0.45,"y":1.10},{"s":"N","x":0.47,"y":1.10},{"s":"N","x":0.49,"y":1.10},{"s":"N","x":0.51,"y":1.10},{"s":"N","x":0.53,"y":1.10},{"s":"N","x":0.55,"y":1.10},{"s":"N","x":0.57,"y":1.10},{"s":"N","x":0.59,"y":1.10},
{"s":"N","x":0.14,"y":1.06},{"s":"N","x":0.16,"y":1.06},{"s":"N","x":0.18,"y":1.06},{"s":"N","x":0.20,"y":1.06},{"s":"N","x":0.22,"y":1.06},{"s":"N","x":0.24,"y":1.06},{"s":"N","x":0.26,"y":1.06},{"s":"N","x":0.28,"y":1.06},{"s":"N","x":0.30,"y":1.06},{"s":"N","x":0.32,"y":1.06},{"s":"N","x":0.34,"y":1.06},{"s":"N","x":0.36,"y":1.06},{"s":"N","x":0.38,"y":1.06},{"s":"N","x":0.40,"y":1.06},{"s":"N","x":0.42,"y":1.06},{"s":"N","x":0.44,"y":1.06},{"s":"N","x":0.46,"y":1.06},{"s":"N","x":0.48,"y":1.06},{"s":"N","x":0.50,"y":1.06},{"s":"N","x":0.52,"y":1.06},{"s":"N","x":0.54,"y":1.06},{"s":"N","x":0.56,"y":1.06},{"s":"N","x":0.58,"y":1.06},
{"s":"N","x":0.17,"y":1.02},{"s":"N","x":0.19,"y":1.02},{"s":"N","x":0.21,"y":1.02},{"s":"N","x":0.23,"y":1.02},{"s":"N","x":0.25,"y":1.02},{"s":"N","x":0.27,"y":1.02},{"s":"N","x":0.29,"y":1.02},{"s":"N","x":0.31,"y":1.02},{"s":"N","x":0.33,"y":1.02},{"s":"N","x":0.35,"y":1.02},{"s":"N","x":0.37,"y":1.02},{"s":"N","x":0.39,"y":1.02},{"s":"N","x":0.41,"y":1.02},{"s":"N","x":0.43,"y":1.02},{"s":"N","x":0.45,"y":1.02},{"s":"N","x":0.47,"y":1.02},{"s":"N","x":0.49,"y":1.02},{"s":"N","x":0.51,"y":1.02},{"s":"N","x":0.53,"y":1.02},{"s":"N","x":0.55,"y":1.02},
{"s":"N","x":0.18,"y":0.98},{"s":"N","x":0.20,"y":0.98},{"s":"N","x":0.22,"y":0.98},{"s":"N","x":0.24,"y":0.98},{"s":"N","x":0.26,"y":0.98},{"s":"N","x":0.28,"y":0.98},{"s":"N","x":0.30,"y":0.98},{"s":"N","x":0.32,"y":0.98},{"s":"N","x":0.34,"y":0.98},{"s":"N","x":0.36,"y":0.98},{"s":"N","x":0.38,"y":0.98},{"s":"N","x":0.40,"y":0.98},{"s":"N","x":0.42,"y":0.98},{"s":"N","x":0.44,"y":0.98},{"s":"N","x":0.46,"y":0.98},{"s":"N","x":0.48,"y":0.98},{"s":"N","x":0.50,"y":0.98},{"s":"N","x":0.52,"y":0.98},
{"s":"N","x":0.21,"y":0.94},{"s":"N","x":0.23,"y":0.94},{"s":"N","x":0.25,"y":0.94},{"s":"N","x":0.27,"y":0.94},{"s":"N","x":0.29,"y":0.94},{"s":"N","x":0.31,"y":0.94},{"s":"N","x":0.33,"y":0.94},{"s":"N","x":0.35,"y":0.94},{"s":"N","x":0.37,"y":0.94},{"s":"N","x":0.39,"y":0.94},{"s":"N","x":0.41,"y":0.94},{"s":"N","x":0.43,"y":0.94},{"s":"N","x":0.45,"y":0.94},
{"s":"N","x":0.24,"y":0.90},{"s":"N","x":0.26,"y":0.90},{"s":"N","x":0.28,"y":0.90},{"s":"N","x":0.30,"y":0.90},{"s":"N","x":0.32,"y":0.90},{"s":"N","x":0.34,"y":0.90},{"s":"N","x":0.36,"y":0.90},{"s":"N","x":0.38,"y":0.90},
{"s":"N","x":0.09,"y":2.36},{"s":"N","x":0.12,"y":2.36},{"s":"N","x":0.15,"y":2.36},{"s":"N","x":0.18,"y":2.36},{"s":"N","x":0.21,"y":2.36},{"s":"N","x":0.24,"y":2.36},
{"s":"N","x":0.07,"y":2.28},{"s":"N","x":0.10,"y":2.28},{"s":"N","x":0.13,"y":2.28},{"s":"N","x":0.16,"y":2.28},{"s":"N","x":0.19,"y":2.28},{"s":"N","x":0.22,"y":2.28},{"s":"N","x":0.25,"y":2.28},{"s":"N","x":0.28,"y":2.28},{"s":"N","x":0.31,"y":2.28},
{"s":"N","x":0.05,"y":2.20},{"s":"N","x":0.08,"y":2.20},{"s":"N","x":0.11,"y":2.20},{"s":"N","x":0.14,"y":2.20},{"s":"N","x":0.17,"y":2.20},{"s":"N","x":0.20,"y":2.20},{"s":"N","x":0.23,"y":2.20},{"s":"N","x":0.26,"y":2.20},{"s":"N","x":0.29,"y":2.20},{"s":"N","x":0.32,"y":2.20},{"s":"N","x":0.35,"y":2.20},{"s":"N","x":0.38,"y":2.20},
{"s":"N","x":0.04,"y":2.12},{"s":"N","x":0.07,"y":2.12},{"s":"N","x":0.10,"y":2.12},{"s":"N","x":0.13,"y":2.12},{"s":"N","x":0.16,"y":2.12},{"s":"N","x":0.19,"y":2.12},{"s":"N","x":0.22,"y":2.12},{"s":"N","x":0.25,"y":2.12},{"s":"N","x":0.28,"y":2.12},{"s":"N","x":0.31,"y":2.12},{"s":"N","x":0.34,"y":2.12},{"s":"N","x":0.37,"y":2.12},{"s":"N","x":0.40,"y":2.12},{"s":"N","x":0.43,"y":2.12},{"s":"N","x":0.46,"y":2.12},
{"s":"N","x":0.03,"y":2.04},{"s":"N","x":0.06,"y":2.04},{"s":"N","x":0.09,"y":2.04},{"s":"N","x":0.12,"y":2.04},{"s":"N","x":0.15,"y":2.04},{"s":"N","x":0.18,"y":2.04},{"s":"N","x":0.21,"y":2.04},{"s":"N","x":0.24,"y":2.04},{"s":"N","x":0.27,"y":2.04},{"s":"N","x":0.30,"y":2.04},{"s":"N","x":0.33,"y":2.04},{"s":"N","x":0.36,"y":2.04},{"s":"N","x":0.39,"y":2.04},{"s":"N","x":0.42,"y":2.04},{"s":"N","x":0.45,"y":2.04},{"s":"N","x":0.48,"y":2.04},{"s":"N","x":0.51,"y":2.04},
{"s":"N","x":0.04,"y":1.96},{"s":"N","x":0.07,"y":1.96},{"s":"N","x":0.10,"y":1.96},{"s":"N","x":0.13,"y":1.96},{"s":"N","x":0.16,"y":1.96},{"s":"N","x":0.19,"y":1.96},{"s":"N","x":0.22,"y":1.96},{"s":"N","x":0.25,"y":1.96},{"s":"N","x":0.28,"y":1.96},{"s":"N","x":0.31,"y":1.96},{"s":"N","x":0.34,"y":1.96},{"s":"N","x":0.37,"y":1.96},{"s":"N","x":0.40,"y":1.96},{"s":"N","x":0.43,"y":1.96},{"s":"N","x":0.46,"y":1.96},{"s":"N","x":0.49,"y":1.96},{"s":"N","x":0.52,"y":1.96},{"s":"N","x":0.55,"y":1.96},
{"s":"N","x":0.03,"y":1.88},{"s":"N","x":0.06,"y":1.88},{"s":"N","x":0.09,"y":1.88},{"s":"N","x":0.12,"y":1.88},{"s":"N","x":0.15,"y":1.88},{"s":"N","x":0.18,"y":1.88},{"s":"N","x":0.21,"y":1.88},{"s":"N","x":0.24,"y":1.88},{"s":"N","x":0.27,"y":1.88},{"s":"N","x":0.30,"y":1.88},{"s":"N","x":0.33,"y":1.88},{"s":"N","x":0.36,"y":1.88},{"s":"N","x":0.39,"y":1.88},{"s":"N","x":0.42,"y":1.88},{"s":"N","x":0.45,"y":1.88},{"s":"N","x":0.48,"y":1.88},{"s":"N","x":0.51,"y":1.88},{"s":"N","x":0.54,"y":1.88},{"s":"N","x":0.57,"y":1.88},{"s":"N","x":0.60,"y":1.88},
{"s":"N","x":0.04,"y":1.80},{"s":"N","x":0.07,"y":1.80},{"s":"N","x":0.10,"y":1.80},{"s":"N","x":0.13,"y":1.80},{"s":"N","x":0.16,"y":1.80},{"s":"N","x":0.19,"y":1.80},{"s":"N","x":0.22,"y":1.80},{"s":"N","x":0.25,"y":1.80},{"s":"N","x":0.28,"y":1.80},{"s":"N","x":0.31,"y":1.80},{"s":"N","x":0.34,"y":1.80},{"s":"N","x":0.37,"y":1.80},{"s":"N","x":0.40,"y":1.80},{"s":"N","x":0.43,"y":1.80},{"s":"N","x":0.46,"y":1.80},{"s":"N","x":0.49,"y":1.80},{"s":"N","x":0.52,"y":1.80},{"s":"N","x":0.55,"y":1.80},{"s":"N","x":0.58,"y":1.80},{"s":"N","x":0.61,"y":1.80},
{"s":"N","x":0.04,"y":1.72},{"s":"N","x":0.07,"y":1.72},{"s":"N","x":0.10,"y":1.72},{"s":"N","x":0.13,"y":1.72},{"s":"N","x":0.16,"y":1.72},{"s":"N","x":0.19,"y":1.72},{"s":"N","x":0.22,"y":1.72},{"s":"N","x":0.25,"y":1.72},{"s":"N","x":0.28,"y":1.72},{"s":"N","x":0.31,"y":1.72},{"s":"N","x":0.34,"y":1.72},{"s":"N","x":0.37,"y":1.72},{"s":"N","x":0.40,"y":1.72},{"s":"N","x":0.43,"y":1.72},{"s":"N","x":0.46,"y":1.72},{"s":"N","x":0.49,"y":1.72},{"s":"N","x":0.52,"y":1.72},{"s":"N","x":0.55,"y":1.72},{"s":"N","x":0.58,"y":1.72},{"s":"N","x":0.61,"y":1.72},{"s":"N","x":0.64,"y":1.72},
{"s":"N","x":0.05,"y":1.64},{"s":"N","x":0.08,"y":1.64},{"s":"N","x":0.11,"y":1.64},{"s":"N","x":0.14,"y":1.64},{"s":"N","x":0.17,"y":1.64},{"s":"N","x":0.20,"y":1.64},{"s":"N","x":0.23,"y":1.64},{"s":"N","x":0.26,"y":1.64},{"s":"N","x":0.29,"y":1.64},{"s":"N","x":0.32,"y":1.64},{"s":"N","x":0.35,"y":1.64},{"s":"N","x":0.38,"y":1.64},{"s":"N","x":0.41,"y":1.64},{"s":"N","x":0.44,"y":1.64},{"s":"N","x":0.47,"y":1.64},{"s":"N","x":0.50,"y":1.64},{"s":"N","x":0.53,"y":1.64},{"s":"N","x":0.56,"y":1.64},{"s":"N","x":0.59,"y":1.64},{"s":"N","x":0.62,"y":1.64},{"s":"N","x":0.65,"y":1.64},
{"s":"N","x":0.06,"y":1.56},{"s":"N","x":0.09,"y":1.56},{"s":"N","x":0.12,"y":1.56},{"s":"N","x":0.15,"y":1.56},{"s":"N","x":0.18,"y":1.56},{"s":"N","x":0.21,"y":1.56},{"s":"N","x":0.24,"y":1.56},{"s":"N","x":0.27,"y":1.56},{"s":"N","x":0.30,"y":1.56},{"s":"N","x":0.33,"y":1.56},{"s":"N","x":0.36,"y":1.56},{"s":"N","x":0.39,"y":1.56},{"s":"N","x":0.42,"y":1.56},{"s":"N","x":0.45,"y":1.56},{"s":"N","x":0.48,"y":1.56},{"s":"N","x":0.51,"y":1.56},{"s":"N","x":0.54,"y":1.56},{"s":"N","x":0.57,"y":1.56},{"s":"N","x":0.60,"y":1.56},{"s":"N","x":0.63,"y":1.56},
{"s":"N","x":0.07,"y":1.48},{"s":"N","x":0.10,"y":1.48},{"s":"N","x":0.13,"y":1.48},{"s":"N","x":0.16,"y":1.48},{"s":"N","x":0.19,"y":1.48},{"s":"N","x":0.22,"y":1.48},{"s":"N","x":0.25,"y":1.48},{"s":"N","x":0.28,"y":1.48},{"s":"N","x":0.31,"y":1.48},{"s":"N","x":0.34,"y":1.48},{"s":"N","x":0.37,"y":1.48},{"s":"N","x":0.40,"y":1.48},{"s":"N","x":0.43,"y":1.48},{"s":"N","x":0.46,"y":1.48},{"s":"N","x":0.49,"y":1.48},{"s":"N","x":0.52,"y":1.48},{"s":"N","x":0.55,"y":1.48},{"s":"N","x":0.58,"y":1.48},{"s":"N","x":0.61,"y":1.48},{"s":"N","x":0.64,"y":1.48},
{"s":"N","x":0.08,"y":1.40},{"s":"N","x":0.11,"y":1.40},{"s":"N","x":0.14,"y":1.40},{"s":"N","x":0.17,"y":1.40},{"s":"N","x":0.20,"y":1.40},{"s":"N","x":0.23,"y":1.40},{"s":"N","x":0.26,"y":1.40},{"s":"N","x":0.29,"y":1.40},{"s":"N","x":0.32,"y":1.40},{"s":"N","x":0.35,"y":1.40},{"s":"N","x":0.38,"y":1.40},{"s":"N","x":0.41,"y":1.40},{"s":"N","x":0.44,"y":1.40},{"s":"N","x":0.47,"y":1.40},{"s":"N","x":0.50,"y":1.40},{"s":"N","x":0.53,"y":1.40},{"s":"N","x":0.56,"y":1.40},{"s":"N","x":0.59,"y":1.40},{"s":"N","x":0.62,"y":1.40},
{"s":"N","x":0.09,"y":1.32},{"s":"N","x":0.12,"y":1.32},{"s":"N","x":0.15,"y":1.32},{"s":"N","x":0.18,"y":1.32},{"s":"N","x":0.21,"y":1.32},{"s":"N","x":0.24,"y":1.32},{"s":"N","x":0.27,"y":1.32},{"s":"N","x":0.30,"y":1.32},{"s":"N","x":0.33,"y":1.32},{"s":"N","x":0.36,"y":1.32},{"s":"N","x":0.39,"y":1.32},{"s":"N","x":0.42,"y":1.32},{"s":"N","x":0.45,"y":1.32},{"s":"N","x":0.48,"y":1.32},{"s":"N","x":0.51,"y":1.32},{"s":"N","x":0.54,"y":1.32},{"s":"N","x":0.57,"y":1.32},{"s":"N","x":0.60,"y":1.32},{"s":"N","x":0.63,"y":1.32},
{"s":"N","x":0.10,"y":1.24},{"s":"N","x":0.13,"y":1.24},{"s":"N","x":0.16,"y":1.24},{"s":"N","x":0.19,"y":1.24},{"s":"N","x":0.22,"y":1.24},{"s":"N","x":0.25,"y":1.24},{"s":"N","x":0.28,"y":1.24},{"s":"N","x":0.31,"y":1.24},{"s":"N","x":0.34,"y":1.24},{"s":"N","x":0.37,"y":1.24},{"s":"N","x":0.40,"y":1.24},{"s":"N","x":0.43,"y":1.24},{"s":"N","x":0.46,"y":1.24},{"s":"N","x":0.49,"y":1.24},{"s":"N","x":0.52,"y":1.24},{"s":"N","x":0.55,"y":1.24},{"s":"N","x":0.58,"y":1.24},{"s":"N","x":0.61,"y":1.24},
{"s":"N","x":0.12,"y":1.16},{"s":"N","x":0.15,"y":1.16},{"s":"N","x":0.18,"y":1.16},{"s":"N","x":0.21,"y":1.16},{"s":"N","x":0.24,"y":1.16},{"s":"N","x":0.27,"y":1.16},{"s":"N","x":0.30,"y":1.16},{"s":"N","x":0.33,"y":1.16},{"s":"N","x":0.36,"y":1.16},{"s":"N","x":0.39,"y":1.16},{"s":"N","x":0.42,"y":1.16},{"s":"N","x":0.45,"y":1.16},{"s":"N","x":0.48,"y":1.16},{"s":"N","x":0.51,"y":1.16},{"s":"N","x":0.54,"y":1.16},{"s":"N","x":0.57,"y":1.16},{"s":"N","x":0.60,"y":1.16},
{"s":"N","x":0.14,"y":1.08},{"s":"N","x":0.17,"y":1.08},{"s":"N","x":0.20,"y":1.08},{"s":"N","x":0.23,"y":1.08},{"s":"N","x":0.26,"y":1.08},{"s":"N","x":0.29,"y":1.08},{"s":"N","x":0.32,"y":1.08},{"s":"N","x":0.35,"y":1.08},{"s":"N","x":0.38,"y":1.08},{"s":"N","x":0.41,"y":1.08},{"s":"N","x":0.44,"y":1.08},{"s":"N","x":0.47,"y":1.08},{"s":"N","x":0.50,"y":1.08},{"s":"N","x":0.53,"y":1.08},{"s":"N","x":0.56,"y":1.08},{"s":"N","x":0.59,"y":1.08},
{"s":"N","x":0.17,"y":1.00},{"s":"N","x":0.20,"y":1.00},{"s":"N","x":0.23,"y":1.00},{"s":"N","x":0.26,"y":1.00},{"s":"N","x":0.29,"y":1.00},{"s":"N","x":0.32,"y":1.00},{"s":"N","x":0.35,"y":1.00},{"s":"N","x":0.38,"y":1.00},{"s":"N","x":0.41,"y":1.00},{"s":"N","x":0.44,"y":1.00},{"s":"N","x":0.47,"y":1.00},{"s":"N","x":0.50,"y":1.00},{"s":"N","x":0.53,"y":1.00},
{"s":"N","x":0.23,"y":0.92},{"s":"N","x":0.26,"y":0.92},{"s":"N","x":0.29,"y":0.92},{"s":"N","x":0.32,"y":0.92},{"s":"N","x":0.35,"y":0.92},{"s":"N","x":0.38,"y":0.92},{"s":"N","x":0.41,"y":0.92},
{"s":"C","x":0.64,"y":4.34},{"s":"C","x":0.63,"y":3.62},{"s":"C","x":0.65,"y":3.48},{"s":"C","x":0.71,"y":3.42},{"s":"C","x":0.82,"y":3.27},{"s":"C","x":0.24,"y":3.29},{"s":"C","x":0.30,"y":3.29},{"s":"C","x":0.36,"y":3.29},{"s":"C","x":0.19,"y":3.10},{"s":"C","x":0.12,"y":2.93},{"s":"C","x":0.36,"y":2.92},{"s":"C","x":0.21,"y":2.73},{"s":"C","x":0.26,"y":2.62},{"s":"C","x":0.39,"y":2.68},{"s":"C","x":0.51,"y":2.64},{"s":"C","x":0.02,"y":2.63},{"s":"C","x":0.17,"y":2.50},{"s":"C","x":0.10,"y":2.51},{"s":"C","x":0.35,"y":2.32},{"s":"C","x":0.40,"y":2.26},{"s":"C","x":0.46,"y":2.21},{"s":"C","x":0.65,"y":1.95},{"s":"C","x":0.38,"y":2.30},{"s":"C","x":0.43,"y":2.24}
]},
"mark":{"type":"point","filled":true,"strokeWidth":1.8},
"encoding":{
"x":{"field":"x","type":"quantitative","scale":{"domain":[-3,1],"nice":false,"zero":false},"axis":{"values":[-3,-2.5,-2,-1.5,-1,-0.5,0,0.5,1],"format":".1f","title":"log(mean/noise)","titlePadding":1}},
"y":{"field":"y","type":"quantitative","scale":{"domain":[-2.5,5],"nice":false,"zero":false},"axis":{"values":[-2,-1,0,1,2,3,4,5],"format":"d","title":"log(sum/noise)","titlePadding":12}},
"fill":{"field":"s","type":"nominal","scale":{"domain":["P","N","C","T"],"range":["#0000ff","#ff0000","transparent","transparent"]},"legend":{"title":null,"labelExpr":"datum.label == 'P' ? 'Positive' : datum.label == 'N' ? 'Negative' : datum.label == 'C' ? 'Clouds' : 'Integrated SNR Threshold'"}},
"stroke":{"field":"s","type":"nominal","scale":{"domain":["P","N","C","T"],"range":["transparent","transparent","#000000","#000000"]},"legend":{"title":null,"labelExpr":"datum.label == 'P' ? 'Positive' : datum.label == 'N' ? 'Negative' : datum.label == 'C' ? 'Clouds' : 'Integrated SNR Threshold'"}},
"shape":{"field":"s","type":"nominal","scale":{"domain":["P","N","C","T"],"range":["circle","circle","M-1,0L1,0M0,-1L0,1","M-1,0L-0.92,0M-0.84,0L-0.76,0M-0.68,0L-0.6,0M-0.52,0L-0.44,0M-0.36,0L-0.28,0M-0.2,0L-0.12,0M-0.04,0L0.04,0M0.12,0L0.2,0M0.28,0L0.36,0M0.44,0L0.52,0M0.6,0L0.68,0M0.76,0L0.84,0M0.92,0L1,0"]},"legend":{"title":null,"labelExpr":"datum.label == 'P' ? 'Positive' : datum.label == 'N' ? 'Negative' : datum.label == 'C' ? 'Clouds' : 'Integrated SNR Threshold'"}},
"size":{"field":"s","type":"nominal","scale":{"type":"ordinal","domain":["P","N","C","T"],"range":[32,32,90,1369]},"legend":{"title":null,"labelExpr":"datum.label == 'P' ? 'Positive' : datum.label == 'N' ? 'Negative' : datum.label == 'C' ? 'Clouds' : 'Integrated SNR Threshold'"}},
"opacity":{"field":"s","type":"nominal","scale":{"type":"ordinal","domain":["P","N","C","T"],"range":[0.3,0.3,0.8,1]},"legend":{"title":null,"labelExpr":"datum.label == 'P' ? 'Positive' : datum.label == 'N' ? 'Negative' : datum.label == 'C' ? 'Clouds' : 'Integrated SNR Threshold'"}}
}
},
{
"data":{"values":[{"x":-2.41,"y":5.0},{"x":1.0,"y":1.64}]},
"mark":{"type":"line","color":"#000000","strokeDash":[1,1.65],"strokeWidth":1,"clip":true},
"encoding":{"x":{"field":"x","type":"quantitative"},"y":{"field":"y","type":"quantitative"}}
}
]
}
